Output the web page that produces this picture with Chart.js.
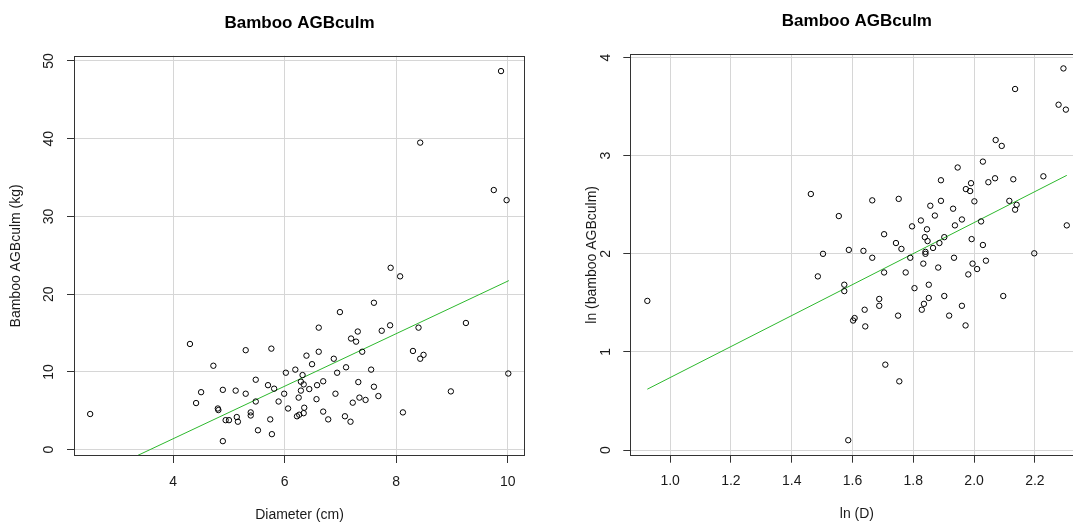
<!DOCTYPE html>
<html lang="en">
<head>
  <meta charset="UTF-8" />
  <title>Bamboo AGBculm</title>
  <script src="https://cdn.jsdelivr.net/npm/chart.js"></script>
  <style>
    html, body { margin: 0; padding: 0; background: #fff; }
    body { width: 1073px; height: 524px; overflow: hidden; position: relative; }
    canvas { position: absolute; top: 0; }
    #leftChart { left: 0; }
    #rightChart { left: 540px; }
  </style>
</head>
<body>

<canvas id="leftChart" width="540" height="524"></canvas>
<canvas id="rightChart" width="560" height="524"></canvas>

<script>
  // left panel: raw values
  const diameterCm = [2.51, 9.88, 8.43, 9.75, 9.98, 7.90, 8.07, 7.60, 6.99, 6.61, 8.40, 9.25, 7.89, 7.74, 7.31,
    7.19, 7.28, 4.30, 5.30, 5.76, 6.61, 7.39, 8.30, 6.39, 8.49, 8.43, 6.49, 6.88, 4.72, 7.10, 7.55, 6.19, 6.02,
    6.94, 10.01, 6.32, 5.48, 6.29, 6.69, 7.32, 6.34, 5.70, 6.58, 5.81, 7.60, 6.44, 4.89, 5.12, 4.50, 6.29, 5.30,
    5.99, 6.91, 8.98, 6.25, 7.68, 7.34, 6.57, 7.45, 5.89, 5.48, 7.22, 4.41, 4.80, 4.81, 6.06, 6.35, 6.69, 8.12,
    5.39, 5.39, 6.34, 5.14, 6.22, 6.26, 7.08, 5.74, 6.78, 4.94, 5.00, 5.16, 7.18, 5.52, 5.77, 4.89];
  const agbKg = [4.59, 48.7, 39.5, 33.4, 32.1, 23.4, 22.3, 18.9, 17.7, 15.7, 15.7, 16.3, 16.0, 15.3, 15.2,
    14.3, 13.9, 13.6, 12.8, 13.0, 12.6, 12.6, 12.7, 12.1, 12.2, 11.7, 11.0, 11.7, 10.8, 10.6, 10.3, 10.3, 9.9,
    9.9, 9.8, 9.6, 9.0, 8.75, 8.8, 8.7, 8.4, 8.3, 8.3, 7.85, 8.1, 7.8, 7.7, 7.6, 7.4, 7.6, 7.2,
    7.2, 7.2, 7.5, 6.7, 6.9, 6.7, 6.5, 6.4, 6.2, 6.2, 6.05, 6.0, 5.3, 5.1, 5.3, 5.4, 4.9, 4.8,
    4.8, 4.4, 4.7, 4.2, 4.3, 4.5, 4.3, 3.9, 3.9, 3.8, 3.8, 3.6, 3.6, 2.5, 2.0, 1.1];

  // right panel: log values
  const lnD = [2.294, 2.135, 2.278, 2.302, 2.071, 2.091, 2.029, 1.946, 1.891, 1.973, 1.990, 1.987, 2.047, 2.069,
    2.129, 2.228, 1.463, 1.665, 1.752, 1.891, 2.001, 2.116, 2.140, 2.135, 1.856, 1.931, 1.555, 1.871, 1.825,
    1.960, 1.796, 1.937, 2.023, 2.305, 1.845, 1.704, 1.838, 1.902, 1.847, 1.743, 1.886, 1.865, 1.761, 1.992,
    2.029, 1.588, 1.636, 1.503, 1.840, 1.840, 2.198, 1.665, 1.790, 1.934, 1.833, 1.995, 2.039, 2.010, 1.882,
    1.981, 1.486, 1.704, 1.775, 1.573, 1.573, 1.804, 1.851, 1.902, 2.096, 1.688, 1.688, 1.851, 1.835, 1.828,
    1.960, 1.640, 1.750, 1.918, 1.607, 1.602, 1.642, 1.972, 1.708, 1.754, 1.586, 0.925];
  const lnAgb = [3.89, 3.68, 3.52, 3.47, 3.16, 3.10, 2.94, 2.88, 2.75, 2.66, 2.72, 2.64, 2.73, 2.77,
    2.76, 2.79, 2.61, 2.545, 2.56, 2.54, 2.535, 2.54, 2.50, 2.45, 2.49, 2.46, 2.385, 2.39, 2.34,
    2.35, 2.28, 2.29, 2.33, 2.29, 2.25, 2.20, 2.17, 2.17, 2.13, 2.11, 2.11, 2.06, 2.05, 2.15,
    2.09, 2.04, 2.03, 2.00, 2.02, 2.00, 2.005, 1.96, 1.96, 1.96, 1.90, 1.90, 1.93, 1.845, 1.86,
    1.79, 1.77, 1.81, 1.81, 1.685, 1.62, 1.65, 1.685, 1.57, 1.57, 1.54, 1.47, 1.55, 1.49, 1.43,
    1.47, 1.43, 1.37, 1.37, 1.345, 1.32, 1.26, 1.27, 0.87, 0.70, 0.10, 1.52];

  // fitted lines, end points
  const fitLeftX = [2.5, 10.02];
  const fitLeftY = [-3.65, 21.75];
  const fitRightX = [0.925, 2.305];
  const fitRightY = [0.62, 2.80];

  const leftXTicks = [4, 6, 8, 10];
  const leftYTicks = [0, 10, 20, 30, 40, 50];
  const rightXTicks = [1.0, 1.2, 1.4, 1.6, 1.8, 2.0, 2.2];
  const rightYTicks = [0, 1, 2, 3, 4];

  Chart.defaults.font.family = '"Liberation Sans", Arial, sans-serif';
  Chart.defaults.font.size = 14;
  Chart.defaults.color = '#1a1a1a';

  const boxPlugin = {
    id: 'box',
    afterDatasetsDraw(chart) {
      const a = chart.chartArea;
      const ctx = chart.ctx;
      ctx.save();
      ctx.strokeStyle = '#333';
      ctx.lineWidth = 1;
      const l = Math.round(a.left) + 0.5, t = Math.round(a.top) + 0.5;
      const r = Math.round(a.right) - 0.5, b = Math.round(a.bottom) - 0.5;
      ctx.strokeRect(l, t, r - l, b - t);
      ctx.restore();
    }
  };

  function toPoints(xs, ys) {
    return xs.map((x, i) => ({ x: x, y: ys[i] }));
  }

  function makeChart(id, c) {
    return new Chart(document.getElementById(id), {
      type: 'scatter',
      data: {
        datasets: [
          {
            data: toPoints(c.xs, c.ys),
            pointRadius: 2.7,
            pointHoverRadius: 2.7,
            pointBorderWidth: 1,
            pointBorderColor: '#000',
            pointBackgroundColor: 'rgba(0,0,0,0)'
          },
          {
            data: toPoints(c.fitX, c.fitY),
            showLine: true,
            pointRadius: 0,
            borderColor: '#2db82d',
            borderWidth: 1
          }
        ]
      },
      options: {
        responsive: false,
        animation: false,
        devicePixelRatio: 1,
        events: [],
        layout: { padding: { left: 0, top: 0, bottom: 0, right: c.padRight } },
        plugins: {
          legend: { display: false },
          tooltip: { enabled: false },
          title: {
            display: true,
            text: 'Bamboo AGBculm',
            color: '#000',
            fullSize: false,
            font: { size: 17, weight: 'bold' },
            padding: c.titlePad
          }
        },
        scales: {
          x: {
            type: 'linear',
            min: c.xMin,
            max: c.xMax,
            afterBuildTicks: s => { s.ticks = c.xTicks.map(v => ({ value: v })); },
            afterFit: s => { s.height = c.xHeight; },
            border: { display: false },
            grid: { color: '#d6d6d6', lineWidth: 1, tickLength: 7, tickColor: '#333' },
            ticks: { autoSkip: false, padding: c.xTickPad, maxRotation: 0, callback: c.xFmt },
            title: { display: true, text: c.xTitle, padding: { top: 0, bottom: c.xTitlePad } }
          },
          y: {
            type: 'linear',
            min: c.yMin,
            max: c.yMax,
            afterBuildTicks: s => { s.ticks = c.yTicks.map(v => ({ value: v })); },
            afterFit: s => { s.width = c.yWidth; },
            border: { display: false },
            grid: { color: '#d6d6d6', lineWidth: 1, tickLength: 7, tickColor: '#333' },
            ticks: { autoSkip: false, padding: c.yTickPad, minRotation: 90, maxRotation: 90, crossAlign: 'center', callback: v => String(v) },
            title: { display: true, text: c.yTitle, padding: { top: c.yTitlePad, bottom: 0 } }
          }
        }
      },
      plugins: [boxPlugin]
    });
  }

  makeChart('leftChart', {
    xs: diameterCm, ys: agbKg, fitX: fitLeftX, fitY: fitLeftY,
    xMin: 2.22, xMax: 10.31, yMin: -0.81, yMax: 50.68,
    xTicks: leftXTicks, yTicks: leftYTicks,
    xFmt: v => String(v),
    padRight: 15, titlePad: { top: 12.8, bottom: 22.5 },
    xHeight: 68, yWidth: 74,
    xTickPad: 10.5, yTickPad: 10.4,
    xTitle: 'Diameter (cm)', xTitlePad: 0,
    yTitle: 'Bamboo AGBculm (kg)', yTitlePad: 8
  });

  makeChart('rightChart', {
    xs: lnD, ys: lnAgb, fitX: fitRightX, fitY: fitRightY,
    xMin: 0.869, xMax: 2.36, yMin: -0.058, yMax: 4.037,
    xTicks: rightXTicks, yTicks: rightYTicks,
    xFmt: v => v.toFixed(1),
    padRight: 16.5, titlePad: { top: 10.8, bottom: 22.8 },
    xHeight: 68.3, yWidth: 90.3,
    xTickPad: 10, yTickPad: 12.9,
    xTitle: 'ln (D)', xTitlePad: 1.1,
    yTitle: 'ln (bamboo AGBculm)', yTitlePad: 44.1
  });
</script>
</body>
</html>
